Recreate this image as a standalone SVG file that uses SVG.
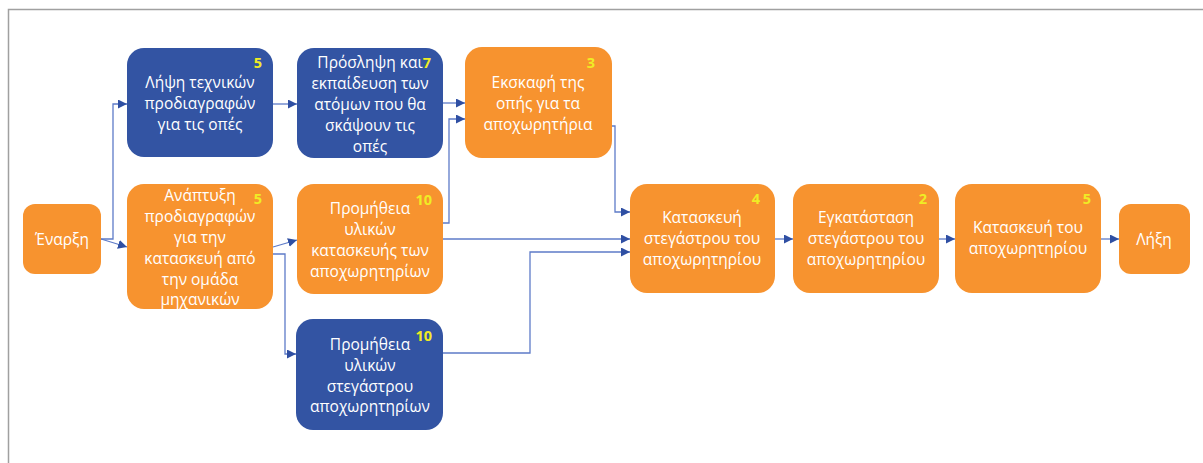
<svg xmlns="http://www.w3.org/2000/svg" width="1203" height="463" viewBox="0 0 1203 463">
  <defs>
    <marker id="arrow" viewBox="0 0 10 10" refX="10" refY="5" markerWidth="9" markerHeight="9" markerUnits="userSpaceOnUse" orient="auto">
      <path d="M0,0 L10,5 L0,10 z" fill="#2F4FA3"/>
    </marker>
    <style>
      .orange { fill: #F7932F; }
      .blue { fill: #3354A3; }
      .label { font-family: "Open Sans", "Noto Sans", sans-serif; font-size: 15.5px; fill: #FFFFFF; text-anchor: middle; }
      .num { font-family: "Open Sans", "Noto Sans", sans-serif; font-size: 14.5px; font-weight: bold; fill: #F0EC25; text-anchor: end; }
      .edge { fill: none; stroke: #5E7BC8; stroke-width: 1.3; marker-end: url(#arrow); }
      .frame { fill: none; stroke: #A0A0A0; stroke-width: 1.5; }
    </style>
  </defs>

  <rect width="1203" height="463" fill="#FFFFFF"/>
  <path class="frame" d="M8.5,463 L8.5,9.5 L1203,9.5"/>

  <!-- connectors -->
  <g id="connectors">
    <path class="edge" d="M101,239 L113,239 L113,104 L127,104"/>
    <path class="edge" d="M101,239 L127,247"/>
    <path class="edge" d="M273,104 L297,104"/>
    <path class="edge" d="M273,247 L297,240"/>
    <path class="edge" d="M273,254 L285,254 L285,354 L296,354"/>
    <path class="edge" d="M443,103 L465,103"/>
    <path class="edge" d="M443,223 L449,223 L449,119 L465,119"/>
    <path class="edge" d="M612,126 L615,126 L615,212 L630,212"/>
    <path class="edge" d="M443,239 L630,239"/>
    <path class="edge" d="M443,353 L530,353 L530,252 L630,252"/>
    <path class="edge" d="M775,239 L793,239"/>
    <path class="edge" d="M939,239 L955,239"/>
    <path class="edge" d="M1101,239 L1119,239"/>
  </g>

  <g id="start">
    <rect class="orange" x="23" y="204" width="78" height="70" rx="12"/>
    <text class="label" x="62" y="245">Έναρξη</text>
  </g>

  <g id="specs-holes">
    <rect class="blue" x="127" y="48" width="146" height="109" rx="17"/>
    <text class="num" x="262" y="68">5</text>
    <text class="label" x="200" y="88">Λήψη τεχνικών</text>
    <text class="label" x="200" y="109">προδιαγραφών</text>
    <text class="label" x="200" y="130">για τις οπές</text>
  </g>

  <g id="specs-build">
    <rect class="orange" x="127" y="184" width="146" height="125" rx="17"/>
    <text class="num" x="262" y="204">5</text>
    <text class="label" x="200" y="201">Ανάπτυξη</text>
    <text class="label" x="200" y="222">προδιαγραφών</text>
    <text class="label" x="200" y="243">για την</text>
    <text class="label" x="200" y="264">κατασκευή από</text>
    <text class="label" x="200" y="285">την ομάδα</text>
    <text class="label" x="200" y="305">μηχανικών</text>
  </g>

  <g id="hiring">
    <rect class="blue" x="297" y="48" width="146" height="110" rx="17"/>
    <text class="num" x="431" y="68">7</text>
    <text class="label" x="370" y="68">Πρόσληψη και</text>
    <text class="label" x="370" y="89">εκπαίδευση των</text>
    <text class="label" x="370" y="110">ατόμων που θα</text>
    <text class="label" x="370" y="131">σκάψουν τις</text>
    <text class="label" x="370" y="152">οπές</text>
  </g>

  <g id="excavation">
    <rect class="orange" x="465" y="47" width="147" height="111" rx="17"/>
    <text class="num" x="595" y="68">3</text>
    <text class="label" x="538" y="88">Εκσκαφή της</text>
    <text class="label" x="538" y="109">οπής για τα</text>
    <text class="label" x="538" y="130">αποχωρητήρια</text>
  </g>

  <g id="materials-build">
    <rect class="orange" x="297" y="184" width="146" height="110" rx="17"/>
    <text class="num" x="432" y="205">10</text>
    <text class="label" x="370" y="214">Προμήθεια</text>
    <text class="label" x="370" y="235">υλικών</text>
    <text class="label" x="370" y="256">κατασκευής των</text>
    <text class="label" x="370" y="277">αποχωρητηρίων</text>
  </g>

  <g id="materials-roof">
    <rect class="blue" x="296" y="319" width="147" height="111" rx="17"/>
    <text class="num" x="432" y="341">10</text>
    <text class="label" x="370" y="350">Προμήθεια</text>
    <text class="label" x="370" y="371">υλικών</text>
    <text class="label" x="370" y="392">στεγάστρου</text>
    <text class="label" x="370" y="412">αποχωρητηρίων</text>
  </g>

  <g id="roof-build">
    <rect class="orange" x="630" y="184" width="145" height="109" rx="17"/>
    <text class="num" x="760" y="204">4</text>
    <text class="label" x="702" y="223">Κατασκευή</text>
    <text class="label" x="702" y="244">στεγάστρου του</text>
    <text class="label" x="702" y="265">αποχωρητηρίου</text>
  </g>

  <g id="roof-install">
    <rect class="orange" x="793" y="184" width="146" height="109" rx="17"/>
    <text class="num" x="927" y="204">2</text>
    <text class="label" x="866" y="223">Εγκατάσταση</text>
    <text class="label" x="866" y="244">στεγάστρου του</text>
    <text class="label" x="866" y="265">αποχωρητηρίου</text>
  </g>

  <g id="latrine-build">
    <rect class="orange" x="955" y="184" width="146" height="109" rx="17"/>
    <text class="num" x="1091" y="204">5</text>
    <text class="label" x="1028" y="233">Κατασκευή του</text>
    <text class="label" x="1028" y="254">αποχωρητηρίου</text>
  </g>

  <g id="end">
    <rect class="orange" x="1119" y="204" width="71" height="70" rx="12"/>
    <text class="label" x="1154" y="245">Λήξη</text>
  </g>
</svg>
